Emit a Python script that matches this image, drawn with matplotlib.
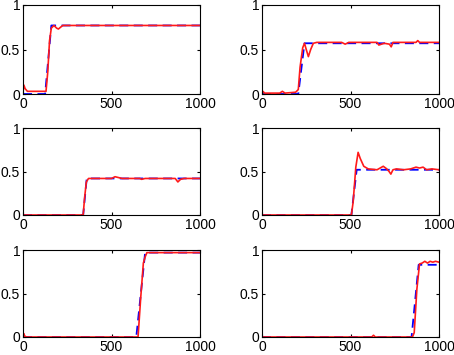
import matplotlib
matplotlib.use("Agg")
import matplotlib.pyplot as plt

# reference steps (blue) and tracked responses (red), one pair per panel
ref1_x = [0, 125, 160, 1000]
ref1_y = [0.0, 0.0, 0.77, 0.77]
out1_x = [0, 5, 12, 25, 45, 130, 140, 150, 160, 175, 190, 200, 212, 225, 240, 1000]
out1_y = [0.02, 0.1, 0.06, 0.03, 0.03, 0.03, 0.25, 0.6, 0.74, 0.77, 0.74, 0.73, 0.75, 0.77, 0.77, 0.77]

ref2_x = [0, 205, 240, 1000]
ref2_y = [0.0, 0.0, 0.57, 0.57]
out2_x = [0, 5, 15, 100, 115, 130, 190, 205, 215, 230, 240, 250, 262, 275, 290, 310,
          450, 470, 490, 650, 660, 690, 720, 730, 740, 870, 880, 890, 1000]
out2_y = [0.0, 0.03, 0.01, 0.01, 0.03, 0.01, 0.02, 0.05, 0.3, 0.52, 0.57, 0.5, 0.42, 0.5, 0.57, 0.58,
          0.58, 0.56, 0.58, 0.58, 0.55, 0.57, 0.56, 0.53, 0.58, 0.58, 0.6, 0.58, 0.58]

ref3_x = [0, 340, 360, 1000]
ref3_y = [0.0, 0.0, 0.42, 0.42]
out3_x = [0, 340, 348, 358, 370, 500, 520, 540, 560, 660, 670, 690, 860, 875, 890, 910, 1000]
out3_y = [0.0, 0.0, 0.2, 0.38, 0.42, 0.42, 0.44, 0.43, 0.42, 0.42, 0.41, 0.42, 0.42, 0.38, 0.41, 0.42, 0.42]

ref4_x = [0, 505, 535, 1000]
ref4_y = [0.0, 0.0, 0.52, 0.52]
out4_x = [0, 505, 515, 530, 543, 555, 575, 600, 650, 685, 705, 718, 728, 740, 760,
          800, 840, 870, 890, 910, 930, 960, 1000]
out4_y = [0.0, 0.0, 0.15, 0.55, 0.72, 0.65, 0.56, 0.53, 0.52, 0.56, 0.53, 0.5, 0.47, 0.52, 0.53,
          0.52, 0.53, 0.55, 0.54, 0.55, 0.52, 0.53, 0.52]

ref5_x = [0, 640, 690, 1000]
ref5_y = [0.0, 0.0, 0.97, 0.97]
out5_x = [0, 4, 10, 20, 650, 665, 680, 690, 700, 1000]
out5_y = [0.0, 0.04, 0.01, 0.0, 0.0, 0.45, 0.85, 0.92, 0.97, 0.97]

ref6_x = [0, 845, 885, 1000]
ref6_y = [0.0, 0.0, 0.83, 0.83]
out6_x = [0, 620, 630, 640, 850, 860, 875, 890, 905, 920, 935, 950, 965, 980, 1000]
out6_y = [0.0, 0.0, 0.02, 0.0, 0.0, 0.05, 0.55, 0.84, 0.85, 0.87, 0.85, 0.87, 0.86, 0.87, 0.86]

panels = [
    (ref1_x, ref1_y, out1_x, out1_y),
    (ref2_x, ref2_y, out2_x, out2_y),
    (ref3_x, ref3_y, out3_x, out3_y),
    (ref4_x, ref4_y, out4_x, out4_y),
    (ref5_x, ref5_y, out5_x, out5_y),
    (ref6_x, ref6_y, out6_x, out6_y),
]

x_ticks = [0, 500, 1000]
y_ticks = [0, 0.5, 1]
y_tick_labels = ["0", "0.5", "1"]

plt.rcParams['font.family'] = ['Liberation Sans', 'DejaVu Sans']

W, H = 454, 355
fig = plt.figure(figsize=(W / 100, H / 100), dpi=100)

# axes boxes in pixels: (left, top, right, bottom)
cols = [(23, 200), (262, 439)]
rows = [(5, 94), (128, 215), (250, 337)]

for i, (rx, ry, ox, oy) in enumerate(panels):
    l, r = cols[i % 2]
    t, b = rows[i // 2]
    ax = fig.add_axes([l / W, (H - b) / H, (r - l) / W, (b - t) / H])
    ax.plot(rx, ry, color='#0000ff', linestyle=(0, (5, 3)), linewidth=1.3)
    ax.plot(ox, oy, color='#ff1a1a', linewidth=1.2)
    ax.set_xlim(0, 1000)
    ax.set_ylim(0, 1)
    ax.set_xticks(x_ticks)
    ax.set_yticks(y_ticks)
    ax.set_yticklabels(y_tick_labels)
    ax.tick_params(direction='in', length=2.5, width=0.8, top=True, right=True,
                   labelsize=10, pad=2)
    for s in ax.spines.values():
        s.set_linewidth(0.8)

fig.savefig("out.png", dpi=100)
